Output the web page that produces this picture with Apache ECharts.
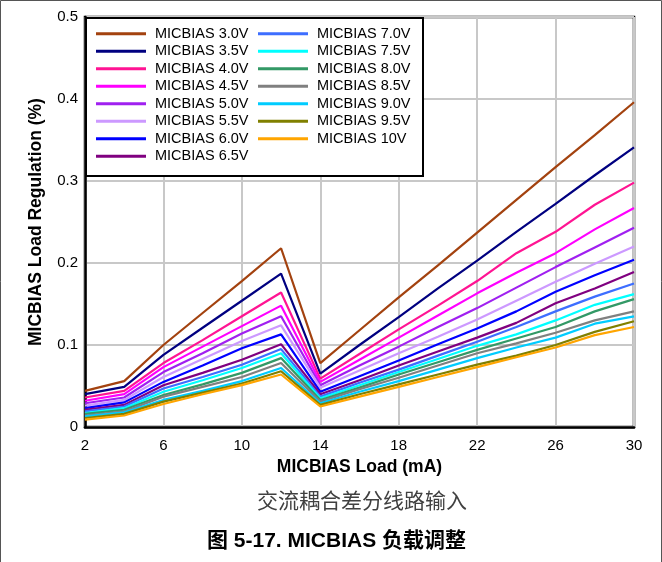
<!DOCTYPE html>
<html>
<head>
<meta charset="utf-8">
<script src="https://cdn.jsdelivr.net/npm/echarts@6/dist/echarts.min.js"></script>
<style>
  html, body { margin: 0; padding: 0; background: #fff; }
  #chart { width: 662px; height: 562px; }
</style>
</head>
<body>
<div id="chart"></div>
<script>
// Load current (mA) on the x axis
const loads = ['2', '4', '6', '8', '10', '12', '14', '16', '18', '20', '22', '24', '26', '28', '30'];

// Load regulation (%) for each MICBIAS setting
const v30  = [0.044, 0.056, 0.100, 0.139, 0.178, 0.218, 0.078, 0.118, 0.158, 0.197, 0.237, 0.277, 0.317, 0.356, 0.396];
const v35  = [0.040, 0.049, 0.088, 0.121, 0.154, 0.187, 0.065, 0.100, 0.134, 0.169, 0.203, 0.238, 0.272, 0.307, 0.341];
const v40  = [0.036, 0.044, 0.078, 0.106, 0.135, 0.164, 0.059, 0.089, 0.119, 0.148, 0.178, 0.212, 0.238, 0.271, 0.298];
const v45  = [0.032, 0.040, 0.073, 0.098, 0.123, 0.148, 0.055, 0.082, 0.109, 0.136, 0.163, 0.188, 0.212, 0.241, 0.267];
const v50  = [0.029, 0.036, 0.067, 0.090, 0.114, 0.135, 0.051, 0.075, 0.098, 0.122, 0.145, 0.170, 0.195, 0.219, 0.243];
const v55  = [0.026, 0.033, 0.061, 0.083, 0.105, 0.124, 0.048, 0.069, 0.090, 0.110, 0.131, 0.154, 0.177, 0.199, 0.220];
const v60  = [0.023, 0.030, 0.055, 0.075, 0.096, 0.113, 0.043, 0.062, 0.081, 0.101, 0.120, 0.141, 0.165, 0.185, 0.204];
const v65  = [0.021, 0.027, 0.051, 0.066, 0.082, 0.101, 0.040, 0.057, 0.075, 0.092, 0.109, 0.127, 0.151, 0.169, 0.189];
const v70  = [0.019, 0.025, 0.047, 0.061, 0.076, 0.095, 0.037, 0.054, 0.070, 0.087, 0.104, 0.122, 0.141, 0.159, 0.175];
const v75  = [0.017, 0.023, 0.043, 0.057, 0.072, 0.090, 0.035, 0.051, 0.067, 0.083, 0.099, 0.113, 0.130, 0.149, 0.162];
const v80  = [0.016, 0.021, 0.039, 0.052, 0.066, 0.084, 0.033, 0.048, 0.064, 0.079, 0.094, 0.108, 0.122, 0.141, 0.156];
const v85  = [0.014, 0.019, 0.037, 0.049, 0.061, 0.078, 0.031, 0.046, 0.060, 0.075, 0.090, 0.102, 0.115, 0.130, 0.141];
const v90  = [0.013, 0.018, 0.033, 0.044, 0.056, 0.072, 0.029, 0.043, 0.056, 0.070, 0.084, 0.097, 0.109, 0.126, 0.135];
const v95  = [0.011, 0.016, 0.031, 0.042, 0.053, 0.068, 0.027, 0.040, 0.052, 0.064, 0.076, 0.087, 0.100, 0.116, 0.129];
const v100 = [0.009, 0.014, 0.028, 0.040, 0.051, 0.064, 0.025, 0.037, 0.049, 0.061, 0.073, 0.085, 0.097, 0.112, 0.122];

const seriesNames = [
  'MICBIAS 3.0V', 'MICBIAS 3.5V', 'MICBIAS 4.0V', 'MICBIAS 4.5V', 'MICBIAS 5.0V',
  'MICBIAS 5.5V', 'MICBIAS 6.0V', 'MICBIAS 6.5V', 'MICBIAS 7.0V', 'MICBIAS 7.5V',
  'MICBIAS 8.0V', 'MICBIAS 8.5V', 'MICBIAS 9.0V', 'MICBIAS 9.5V', 'MICBIAS 10V'
];
const seriesValues = [v30, v35, v40, v45, v50, v55, v60, v65, v70, v75, v80, v85, v90, v95, v100];
const seriesColors = [
  '#A3420F', '#000080', '#FF1493', '#FF00FF', '#A020F0',
  '#CC99FF', '#0000FF', '#800080', '#3D6EFF', '#00FFFF',
  '#339966', '#808080', '#00CCFF', '#808000', '#FFA500'
];

const yTicks = { min: 0, max: 0.5, step: 0.1 };

const FONT = '"Liberation Sans", Arial, sans-serif';
const MIXED = '"Liberation Sans", "Noto Sans CJK SC", sans-serif';

const chart = echarts.init(document.getElementById('chart'), null, { renderer: 'canvas' });

const legendCommon = {
  orient: 'vertical',
  icon: 'rect',
  itemWidth: 50,
  itemHeight: 3,
  itemGap: 0,
  padding: 0,
  selectedMode: false,
  textStyle: { fontFamily: FONT, fontSize: 14.5, color: '#000', lineHeight: 17.5, padding: [0, 0, 0, 4] }
};

chart.setOption({
  animation: false,
  backgroundColor: '#fff',
  grid: {
    left: 85, right: 28, top: 17, bottom: 135,
    show: true, borderColor: '#000', borderWidth: 2.5, backgroundColor: 'transparent',
    containLabel: false
  },
  legend: [
    Object.assign({}, legendCommon, { left: 96, top: 25, data: seriesNames.slice(0, 8) }),
    Object.assign({}, legendCommon, { left: 258, top: 25, data: seriesNames.slice(8) })
  ],
  xAxis: {
    type: 'category',
    data: loads,
    boundaryGap: false,
    name: 'MICBIAS Load (mA)',
    nameLocation: 'middle',
    nameGap: 30,
    nameTextStyle: { fontFamily: FONT, fontSize: 17.5, fontWeight: 'bold', color: '#000' },
    axisLine: { show: true, lineStyle: { color: '#000', width: 2.5 } },
    axisTick: { show: false },
    axisLabel: { interval: 1, fontFamily: FONT, fontSize: 15, color: '#000', margin: 11 },
    splitLine: { show: true, interval: 1, lineStyle: { color: '#c8c8c8', width: 2 } }
  },
  yAxis: {
    type: 'value',
    min: yTicks.min,
    max: yTicks.max,
    interval: yTicks.step,
    name: 'MICBIAS Load Regulation (%)',
    nameLocation: 'middle',
    nameGap: 40,
    nameTextStyle: { fontFamily: FONT, fontSize: 17.5, fontWeight: 'bold', color: '#000' },
    axisLine: { show: true, lineStyle: { color: '#000', width: 2.5 } },
    axisTick: { show: false },
    axisLabel: { fontFamily: FONT, fontSize: 15, color: '#000', margin: 7 },
    splitLine: { show: true, lineStyle: { color: '#c8c8c8', width: 2 } }
  },
  series: seriesNames.map((name, i) => ({
    name: name,
    type: 'line',
    data: seriesValues[i],
    symbol: 'none',
    color: seriesColors[i],
    lineStyle: { width: 2.2, color: seriesColors[i] },
    z: 3
  })),
  graphic: [
    // Legend frame
    {
      type: 'rect', left: 85, top: 17, z: 1,
      shape: { width: 337, height: 158 },
      style: { fill: '#fff', stroke: '#000', lineWidth: 2 }
    },
    // Figure border
    {
      type: 'polyline', z: 10, silent: true,
      shape: { points: [[0.5, 562], [0.5, 0.5], [661.5, 0.5], [661.5, 562]] },
      style: { stroke: '#555', lineWidth: 1, fill: null }
    },
    {
      type: 'text', left: 257, top: 490, z: 10,
      style: { text: '交流耦合差分线路输入', font: '21px "Noto Sans CJK SC", sans-serif', fill: '#404040' }
    },
    {
      type: 'text', left: 207, top: 531, z: 10,
      style: { text: '图 5-17. MICBIAS 负载调整', font: 'bold 21px ' + MIXED, fill: '#000' }
    }
  ]
});
</script>
</body>
</html>
